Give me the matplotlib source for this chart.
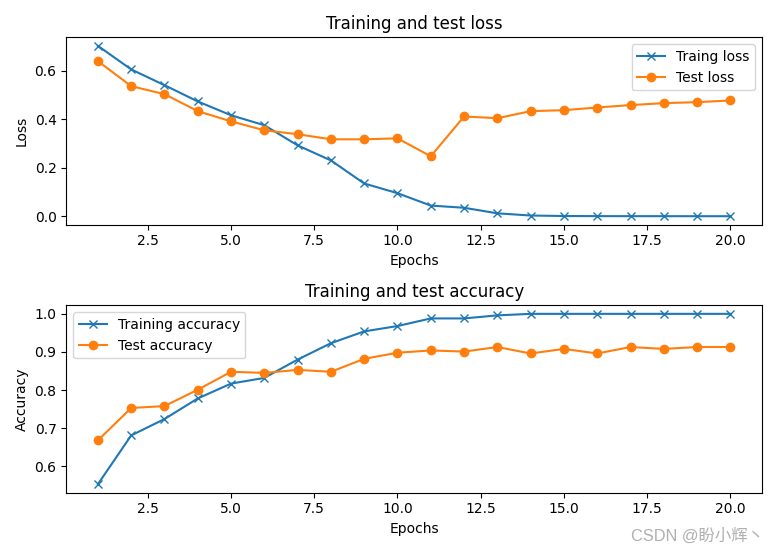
import matplotlib
matplotlib.use('Agg')
import matplotlib.pyplot as plt

epochs = list(range(1, 21))
train_loss = [0.702, 0.605, 0.540, 0.473, 0.416, 0.375, 0.292, 0.230, 0.135, 0.095,
              0.044, 0.035, 0.012, 0.003, 0.001, 0.0005, 0.0004, 0.0003, 0.0002, 0.0002]
test_loss = [0.639, 0.536, 0.503, 0.433, 0.391, 0.354, 0.338, 0.317, 0.317, 0.321,
             0.247, 0.411, 0.404, 0.433, 0.437, 0.448, 0.458, 0.466, 0.470, 0.477]
train_acc = [0.553, 0.681, 0.724, 0.778, 0.817, 0.832, 0.880, 0.923, 0.954, 0.968,
             0.988, 0.988, 0.996, 1.0, 1.0, 1.0, 1.0, 1.0, 1.0, 1.0]
test_acc = [0.668, 0.753, 0.758, 0.801, 0.848, 0.845, 0.853, 0.848, 0.882, 0.898,
            0.904, 0.901, 0.913, 0.896, 0.908, 0.896, 0.913, 0.908, 0.913, 0.913]

fig = plt.figure(figsize=(7.77, 5.51), dpi=100)

# loss
plt.subplot(211)
plt.plot(epochs, train_loss, marker='x', label='Traing loss')
plt.plot(epochs, test_loss, marker='o', label='Test loss')
plt.title('Training and test loss')
plt.xlabel('Epochs')
plt.ylabel('Loss')
plt.legend()

# accuracy
plt.subplot(212)
plt.plot(epochs, train_acc, marker='x', label='Training accuracy')
plt.plot(epochs, test_acc, marker='o', label='Test accuracy')
plt.title('Training and test accuracy')
plt.xlabel('Epochs')
plt.ylabel('Accuracy')
plt.legend()

plt.tight_layout()

# watermark
fig.text(0.983, 0.013, 'CSDN @盼小辉丶', ha='right', va='bottom', fontsize=11.8,
         color='#b0b0b0', family=['Liberation Sans', 'Noto Sans CJK SC'])

plt.savefig('out.png')
